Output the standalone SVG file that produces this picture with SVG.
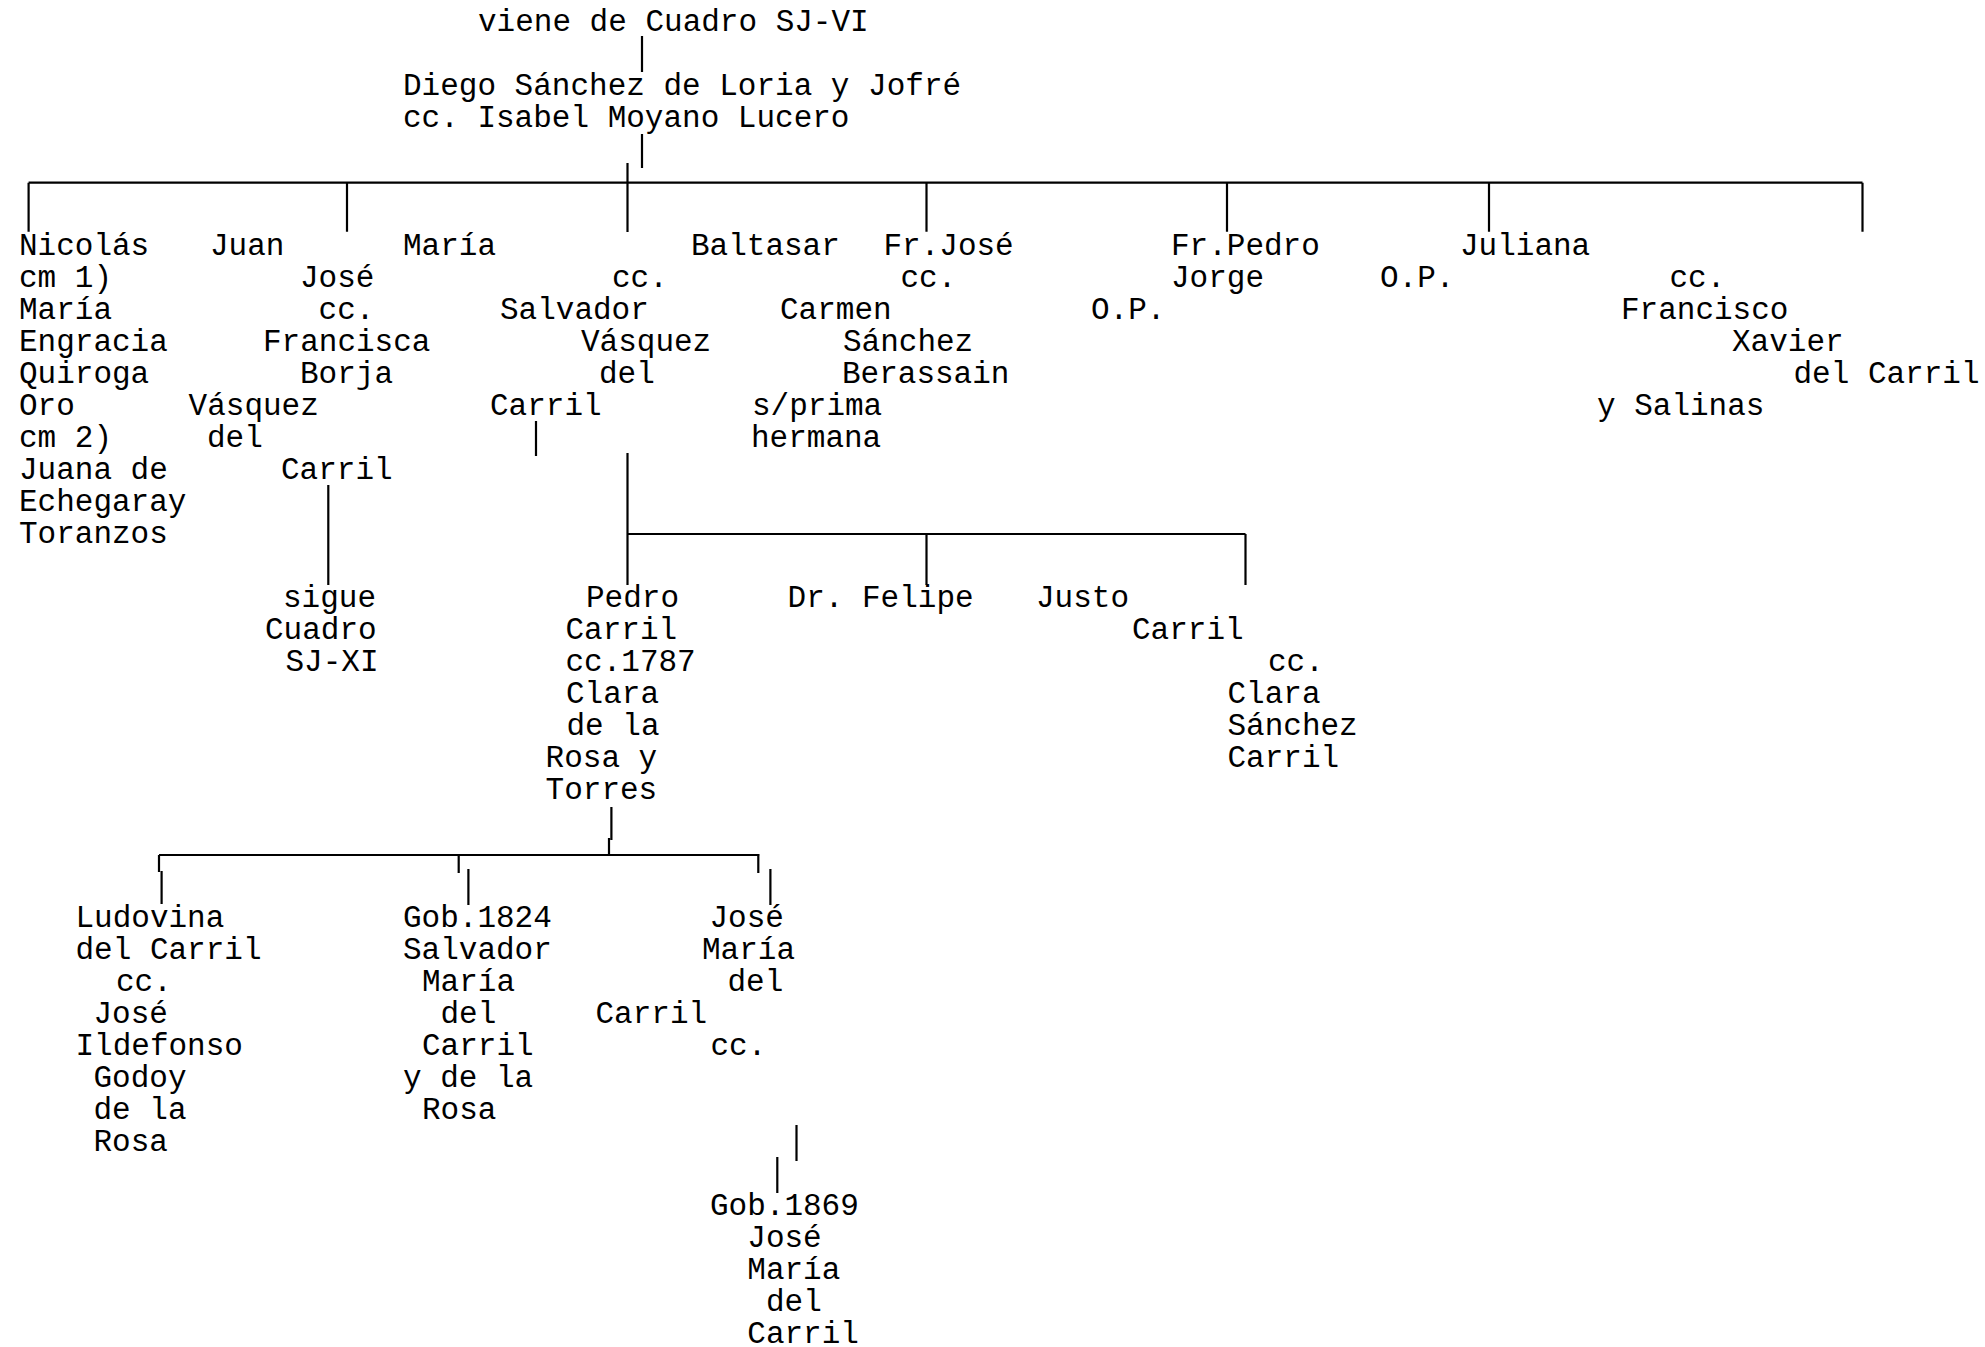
<svg xmlns="http://www.w3.org/2000/svg" width="1985" height="1347" viewBox="0 0 1985 1347">
<style>
text{font-family:"Liberation Mono","Courier New",monospace;font-size:31px;fill:#000;}
.c{stroke:#000;stroke-width:2.2;fill:none;}
</style>
<rect width="1985" height="1347" fill="#fff"/>
<g id="connectors" class="c">
<path d="M642 36V72M642 134V168M627.5 163V232"/>
<path d="M28.6 182.7H1862.5M28.6 182.7V231.7M347 182.7V231.7M926.5 182.7V231.7M1227 182.7V231.7M1489 182.7V231.7M1862.5 182.7V231.7"/>
<path d="M536 421V456M328.3 485V585M627.5 453V585M627.5 534H1245.5M926.5 534V585M1245.5 534V585"/>
<path d="M611.4 807V840M609 838V855M159 855H759.5M159 855V872M161.6 871V904M458.7 855V873M468.4 869V905M758.3 855V873M770.4 869V905"/>
<path d="M796.5 1125V1161M777.3 1157V1193"/>
</g>
<g id="viene"><text x="478" y="31.3">viene de Cuadro SJ-VI</text></g>
<g id="diego">
<text x="403" y="95.3">Diego Sánchez de Loria y Jofré</text>
<text x="403" y="127.3">cc. Isabel Moyano Lucero</text>
</g>
<g id="nicolas">
<text x="19" y="255.3">Nicolás</text>
<text x="19" y="287.3">cm 1)</text>
<text x="19" y="319.3">María</text>
<text x="19" y="351.3">Engracia</text>
<text x="19" y="383.3">Quiroga</text>
<text x="19" y="415.3">Oro</text>
<text x="19" y="447.3">cm 2)</text>
<text x="19" y="479.3">Juana de</text>
<text x="19" y="511.3">Echegaray</text>
<text x="19" y="543.3">Toranzos</text>
</g>
<g id="juan">
<text x="210" y="255.3">Juan</text>
<text x="300" y="287.3">José</text>
<text x="318.6" y="319.3">cc.</text>
<text x="263" y="351.3">Francisca</text>
<text x="300" y="383.3">Borja</text>
<text x="188.6" y="415.3">Vásquez</text>
<text x="207" y="447.3">del</text>
<text x="281" y="479.3">Carril</text>
</g>
<g id="sigue">
<text x="283" y="607.3">sigue</text>
<text x="265" y="639.3">Cuadro</text>
<text x="285.5" y="671.3">SJ-XI</text>
</g>
<g id="maria">
<text x="403" y="255.3">María</text>
<text x="612" y="287.3">cc.</text>
<text x="500" y="319.3">Salvador</text>
<text x="581" y="351.3">Vásquez</text>
<text x="599" y="383.3">del</text>
<text x="490" y="415.3">Carril</text>
</g>
<g id="baltasar">
<text x="691" y="255.3">Baltasar</text>
<text x="900.5" y="287.3">cc.</text>
<text x="780" y="319.3">Carmen</text>
<text x="843" y="351.3">Sánchez</text>
<text x="842" y="383.3">Berassain</text>
<text x="752" y="415.3">s/prima</text>
<text x="751" y="447.3">hermana</text>
</g>
<g id="frjose">
<text x="883.5" y="255.3">Fr.José</text>
<text x="1091" y="319.3">O.P.</text>
</g>
<g id="frpedro">
<text x="1171" y="255.3">Fr.Pedro</text>
<text x="1171" y="287.3">Jorge</text>
<text x="1380" y="287.3">O.P.</text>
</g>
<g id="juliana">
<text x="1460" y="255.3">Juliana</text>
<text x="1669.5" y="287.3">cc.</text>
<text x="1621" y="319.3">Francisco</text>
<text x="1732" y="351.3">Xavier</text>
<text x="1793.5" y="383.3">del Carril</text>
<text x="1597" y="415.3">y Salinas</text>
</g>
<g id="pedro">
<text x="586" y="607.3">Pedro</text>
<text x="565.5" y="639.3">Carril</text>
<text x="565.5" y="671.3">cc.1787</text>
<text x="566" y="703.3">Clara</text>
<text x="566.5" y="735.3">de la</text>
<text x="545.6" y="767.3">Rosa y</text>
<text x="545.6" y="799.3">Torres</text>
</g>
<g id="felipe"><text x="787.6" y="607.3">Dr. Felipe</text></g>
<g id="justo">
<text x="1036" y="607.3">Justo</text>
<text x="1132" y="639.3">Carril</text>
<text x="1268" y="671.3">cc.</text>
<text x="1227.5" y="703.3">Clara</text>
<text x="1227.5" y="735.3">Sánchez</text>
<text x="1227.5" y="767.3">Carril</text>
</g>
<g id="ludovina">
<text x="75.5" y="927.3">Ludovina</text>
<text x="75.5" y="959.3">del Carril</text>
<text x="116" y="991.3">cc.</text>
<text x="93.5" y="1023.3">José</text>
<text x="75.5" y="1055.3">Ildefonso</text>
<text x="93.5" y="1087.3">Godoy</text>
<text x="93.5" y="1119.3">de la</text>
<text x="93.5" y="1151.3">Rosa</text>
</g>
<g id="salvador">
<text x="403" y="927.3">Gob.1824</text>
<text x="403" y="959.3">Salvador</text>
<text x="422" y="991.3">María</text>
<text x="440.5" y="1023.3">del</text>
<text x="422" y="1055.3">Carril</text>
<text x="403" y="1087.3">y de la</text>
<text x="422" y="1119.3">Rosa</text>
</g>
<g id="josemaria">
<text x="709.5" y="927.3">José</text>
<text x="702" y="959.3">María</text>
<text x="727.5" y="991.3">del</text>
<text x="595.5" y="1023.3">Carril</text>
<text x="710.5" y="1055.3">cc.</text>
</g>
<g id="gob1869">
<text x="710" y="1215.3">Gob.1869</text>
<text x="747.3" y="1247.3">José</text>
<text x="747.3" y="1279.3">María</text>
<text x="766" y="1311.3">del</text>
<text x="747.3" y="1343.3">Carril</text>
</g>
</svg>
